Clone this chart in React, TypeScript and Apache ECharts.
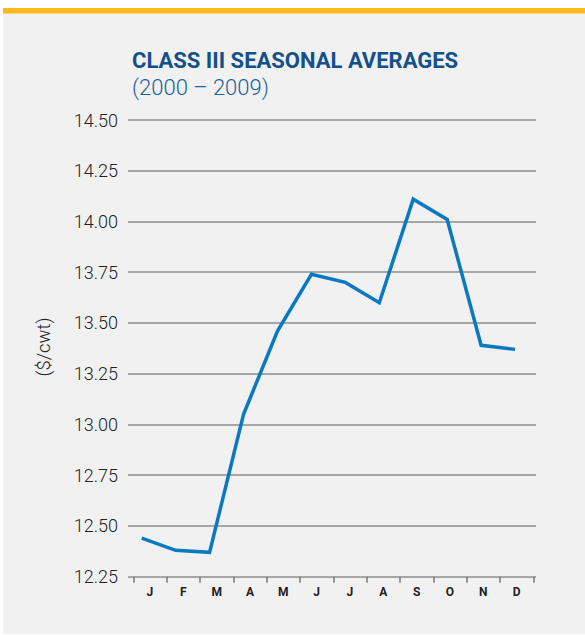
import React, { useEffect, useRef } from "react";
import * as echarts from "echarts";

const months = ["J", "F", "M", "A", "M", "J", "J", "A", "S", "O", "N", "D"];
const averages = [12.44, 12.38, 12.37, 13.05, 13.46, 13.74, 13.7, 13.6, 14.11, 14.01, 13.39, 13.37];
const yTicks = [12.25, 12.5, 12.75, 13.0, 13.25, 13.5, 13.75, 14.0, 14.25, 14.5];
const titleText = "CLASS III SEASONAL AVERAGES";
const subtitleText = "(2000 – 2009)";
const unitText = "($/cwt)";

export default function App() {
  const ref = useRef<HTMLDivElement>(null);
  useEffect(() => {
    if (!ref.current) return;
    const chart = echarts.init(ref.current, null, { renderer: "svg" });
    const gridTop = 120;
    const gridBottom = 58.3;
    chart.setOption({
      animation: false,
      backgroundColor: "#ffffff",
      graphic: [
        { type: "rect", z: -10, shape: { x: 3, y: 13, width: 582, height: 621 }, style: { fill: "#f1f1f1" } },
        { type: "rect", z: -10, shape: { x: 3, y: 8, width: 582, height: 5.5 }, style: { fill: "#fcb918" } },
        {
          type: "text",
          x: 44,
          y: 347,
          rotation: Math.PI / 2,
          style: {
            text: unitText,
            align: "center",
            verticalAlign: "middle",
            fontSize: 18.5,
            fontFamily: "Roboto",
            fontWeight: 300,
            fill: "#222222",
          },
        },
      ],
      title: [
        {
          text: titleText,
          left: 127,
          top: 44,
          textStyle: { fontFamily: "Roboto", fontWeight: "bold", fontSize: 22, color: "#14508a" },
        },
        {
          text: subtitleText,
          left: 127,
          top: 71,
          textStyle: { fontFamily: "Roboto", fontWeight: 300, fontSize: 22, color: "#1d5ea0" },
        },
      ],
      grid: [
        { left: 128, right: 49, top: gridTop, bottom: gridBottom },
        { left: 133.3, width: 400, top: gridTop, bottom: gridBottom },
      ],
      xAxis: [
        {
          type: "value",
          gridIndex: 0,
          min: -0.404,
          max: 11.617,
          show: false,
        },
        {
          type: "category",
          gridIndex: 1,
          data: months,
          boundaryGap: true,
          axisLine: { show: false },
          axisTick: { show: true, length: 6, lineStyle: { color: "#7a7a7a", width: 1.5 } },
          axisLabel: {
            fontFamily: "Roboto",
            fontWeight: "bold",
            fontSize: 12,
            color: "#222222",
            margin: 9,
          },
        },
      ],
      yAxis: [
        {
          type: "value",
          gridIndex: 0,
          min: yTicks[0],
          max: yTicks[yTicks.length - 1],
          interval: 0.25,
          axisLine: { show: false },
          axisTick: { show: false },
          splitLine: { show: true, lineStyle: { color: "#8c8c8c", width: 1.5 } },
          axisLabel: {
            fontFamily: "Roboto",
            fontWeight: 300,
            fontSize: 18,
            color: "#222222",
            margin: 10,
            formatter: (v: number) => v.toFixed(2),
          },
        },
        {
          type: "value",
          gridIndex: 1,
          min: yTicks[0],
          max: yTicks[yTicks.length - 1],
          show: false,
          splitLine: { show: false },
        },
      ],
      series: [
        {
          type: "line",
          xAxisIndex: 0,
          yAxisIndex: 0,
          data: averages.map((v, i) => [i, v]),
          showSymbol: false,
          symbol: "none",
          lineStyle: { color: "#0b79c1", width: 3.5, join: "miter" },
          z: 5,
        },
      ],
    });
    return () => chart.dispose();
  }, []);
  return <div ref={ref} style={{ position: "absolute", left: 0, top: 0, width: 585, height: 635 }} />;
}
